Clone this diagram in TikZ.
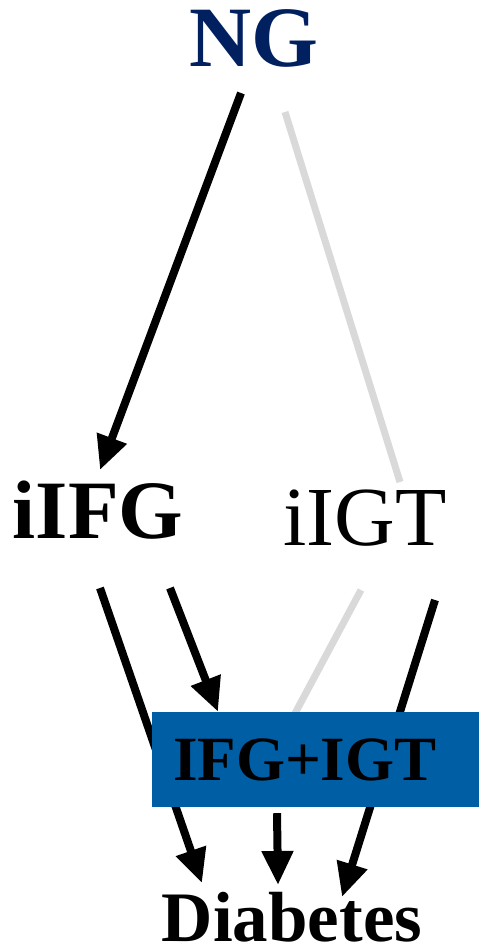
\documentclass[tikz,border=0pt]{standalone}
\usepackage{fontspec}
\setmainfont{Liberation Serif}
\usetikzlibrary{arrows.meta,backgrounds}
\definecolor{ngblue}{RGB}{0,32,96}
\definecolor{boxblue}{RGB}{0,94,164}
\definecolor{fadegray}{RGB}{217,217,217}
\begin{document}
\begin{tikzpicture}[x=1pt,y=1pt,
  lbl/.style={inner sep=0pt, anchor=base},
  flow/.style={line width=8pt, black, -{Triangle[length=34pt,width=30pt]}},
  faded/.style={line width=7pt, fadegray},
  combo/.style={fill=boxblue, inner ysep=0pt, inner xsep=21pt, text width=285pt,
    align=left, minimum height=95pt, font=\fontsize{63}{70}\selectfont\bfseries}]
\useasboundingbox (0,0) rectangle (479,-948);

% states
\node[lbl, text=ngblue, font=\fontsize{86}{94}\selectfont\bfseries] (ng) at (254,-66) {NG};
\node[lbl, font=\fontsize{83}{90}\selectfont\bfseries] (ifg) at (98,-538) {iIFG};
\node[lbl, font=\fontsize{84}{90}\selectfont] (igt) at (365,-545) {iIGT};
\node[combo] (both) at (315.5,-759.5) {IFG+IGT};
\node[lbl, font=\fontsize{71}{78}\selectfont\bfseries] (dm) at (292,-941) {Diabetes};

% transitions, kept under the combined box
\begin{pgfonlayer}{background}
  \draw[flow] ([shift={(-13,-27)}]ng.base) -- ([shift={(2,68)}]ifg.base);
  \draw[faded] ([shift={(31,-46)}]ng.base) -- ([shift={(35,63)}]igt.base);
  \draw[flow] ([shift={(2,-50)}]ifg.base) -- ([shift={(-90,58)}]dm.base);
  \draw[flow] ([shift={(72,-50)}]ifg.base) -- ([xshift=-97.5pt]both.north);
  \draw[faded] ([shift={(-4,-45)}]igt.base) -- ([shift={(-25,-10)}]both.north);
  \draw[flow] ([shift={(70,-55)}]igt.base) -- ([shift={(50,44)}]dm.base);
  \draw[flow] ([shift={(-38.5,-6)}]both.south) -- ([shift={(-14,56)}]dm.base);
\end{pgfonlayer}
\end{tikzpicture}
\end{document}
